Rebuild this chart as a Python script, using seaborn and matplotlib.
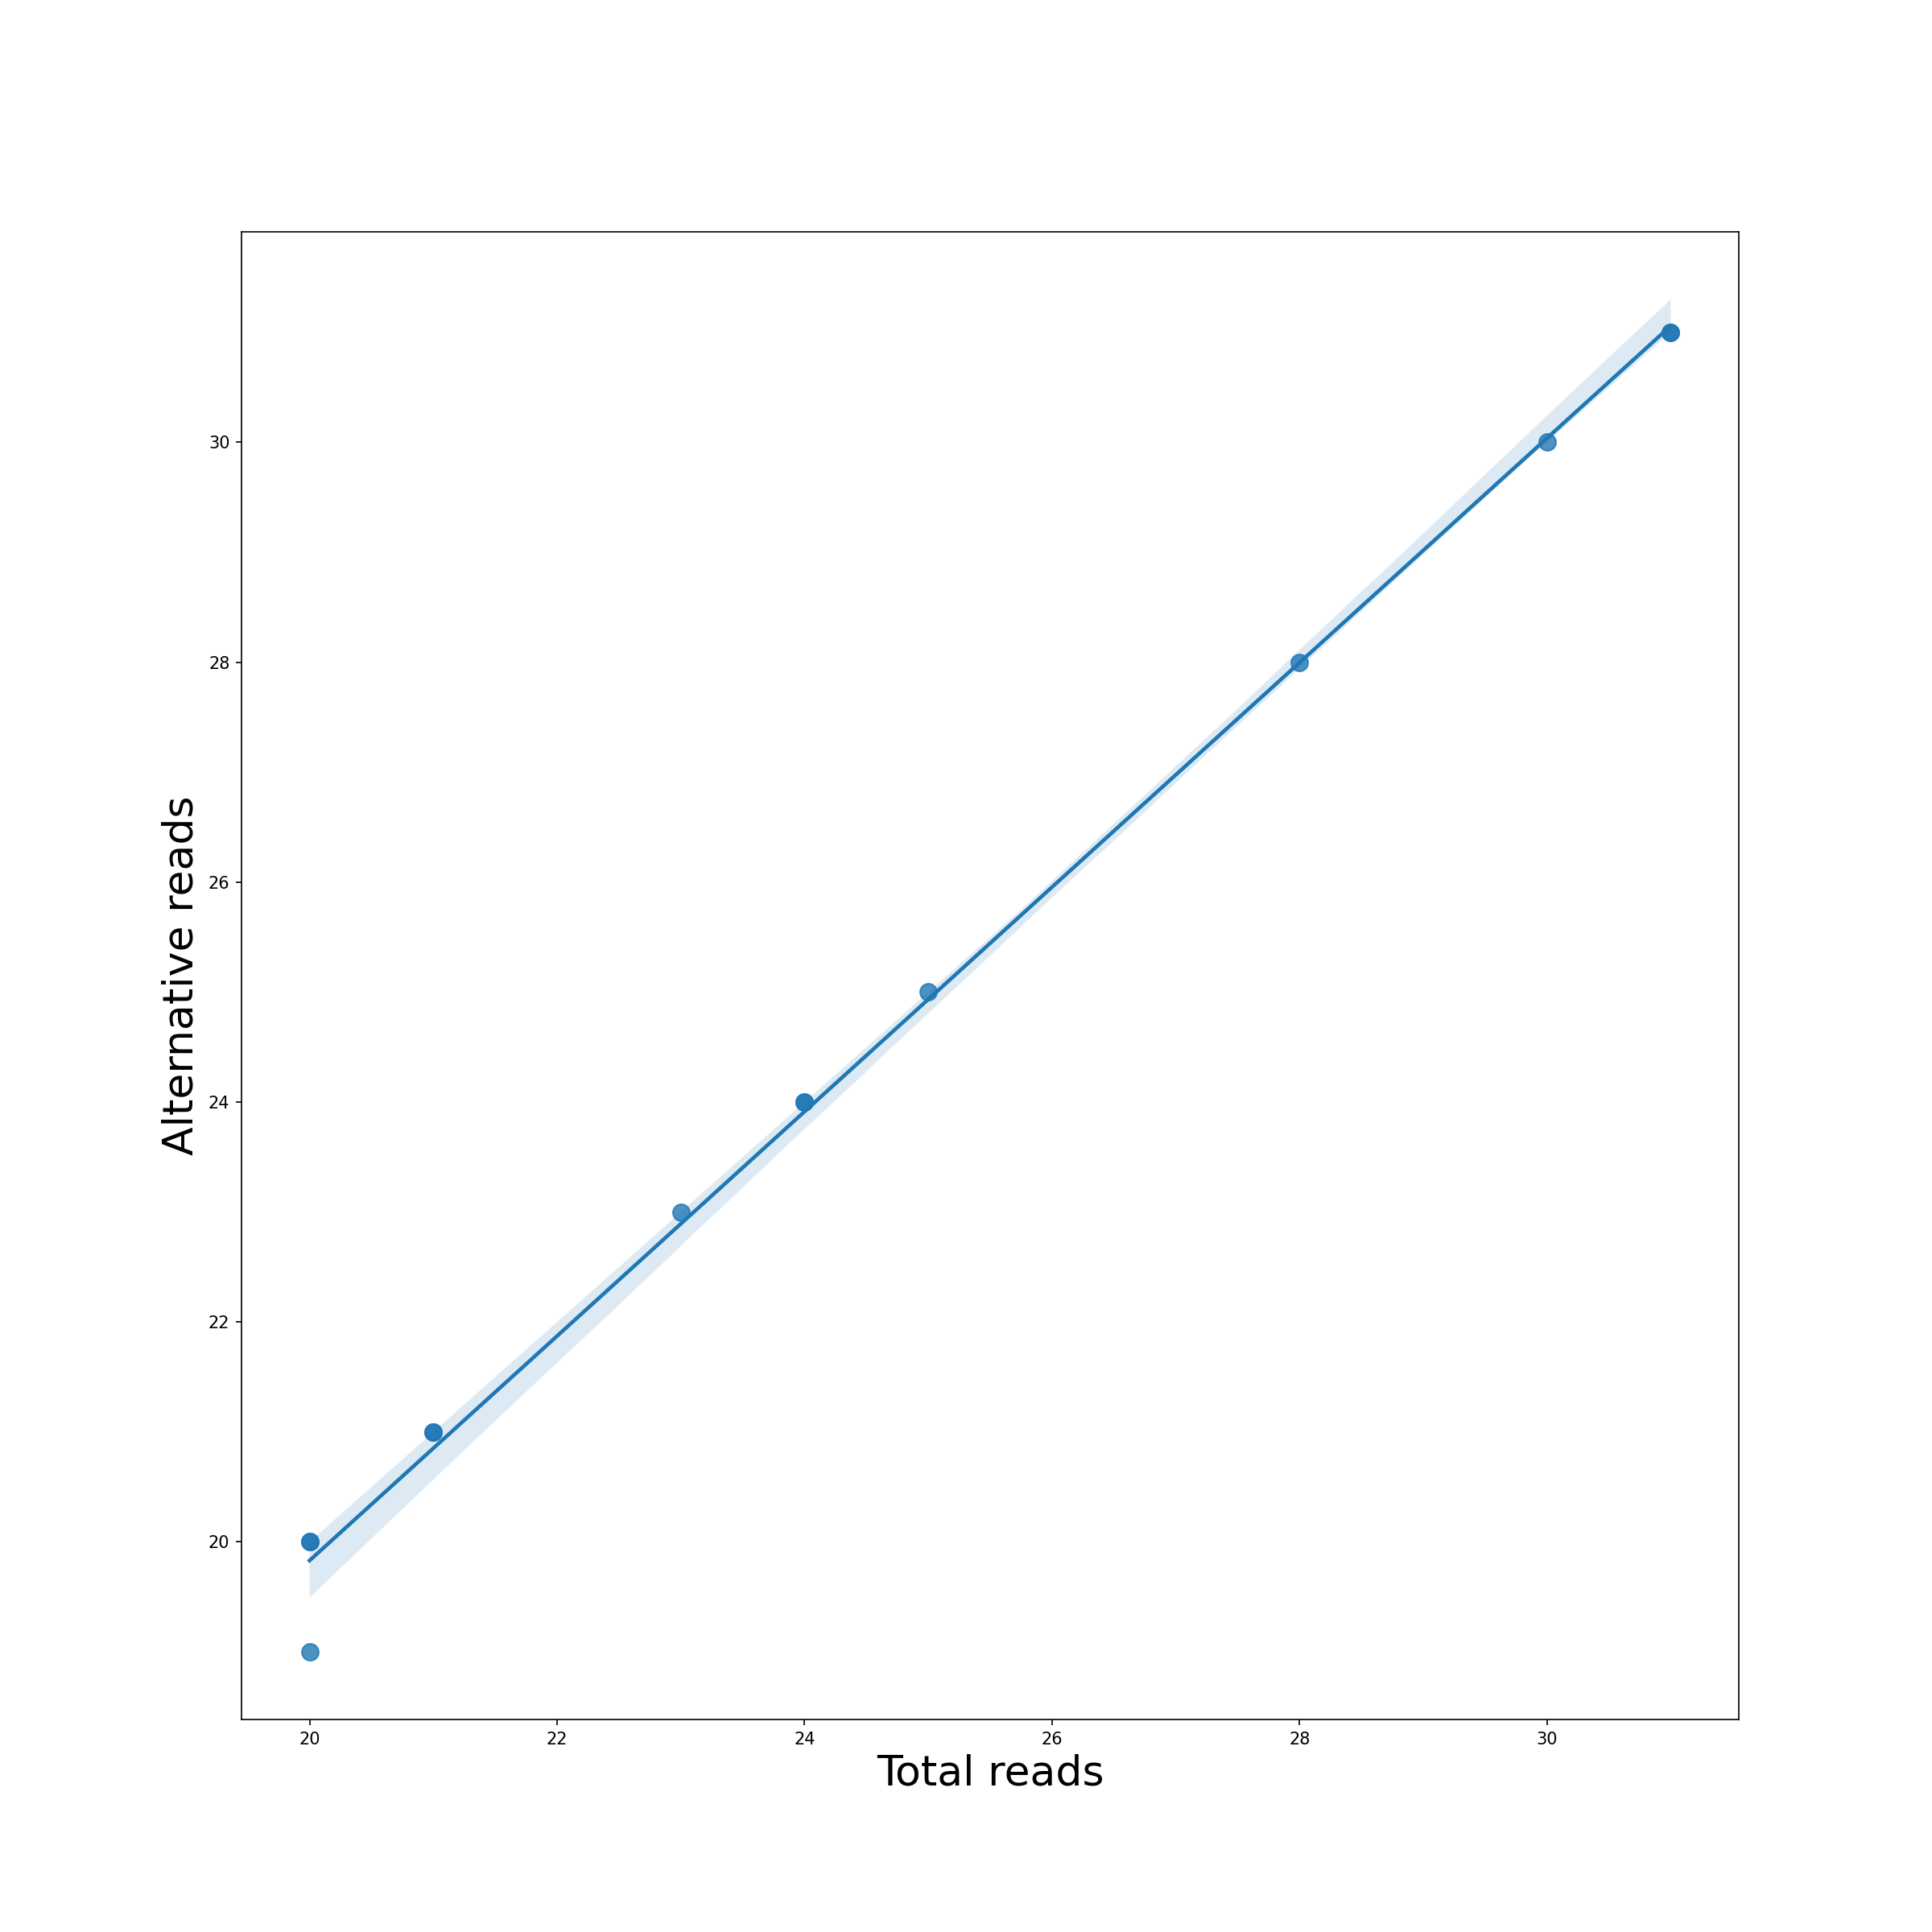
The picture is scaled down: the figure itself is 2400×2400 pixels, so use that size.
import numpy as np
import pandas as pd
import seaborn as sns
import matplotlib.pyplot as plt

# read counts per sample
total_reads = [20, 20, 20, 21, 21, 23, 24, 24, 25, 28, 30, 31, 31]
alt_reads = [20, 20, 19, 21, 21, 23, 24, 24, 25, 28, 30, 31, 31]

df = pd.DataFrame({'Total reads': total_reads, 'Alternative reads': alt_reads})

np.random.seed(0)
fig, ax = plt.subplots(figsize=(16, 16))
sns.regplot(x='Total reads', y='Alternative reads', data=df, ax=ax,
            scatter_kws={'s': 100}, seed=0)
ax.set_xlabel('Total reads', fontsize=25)
ax.set_ylabel('Alternative reads', fontsize=25)

plt.savefig('out.png', dpi=150)
